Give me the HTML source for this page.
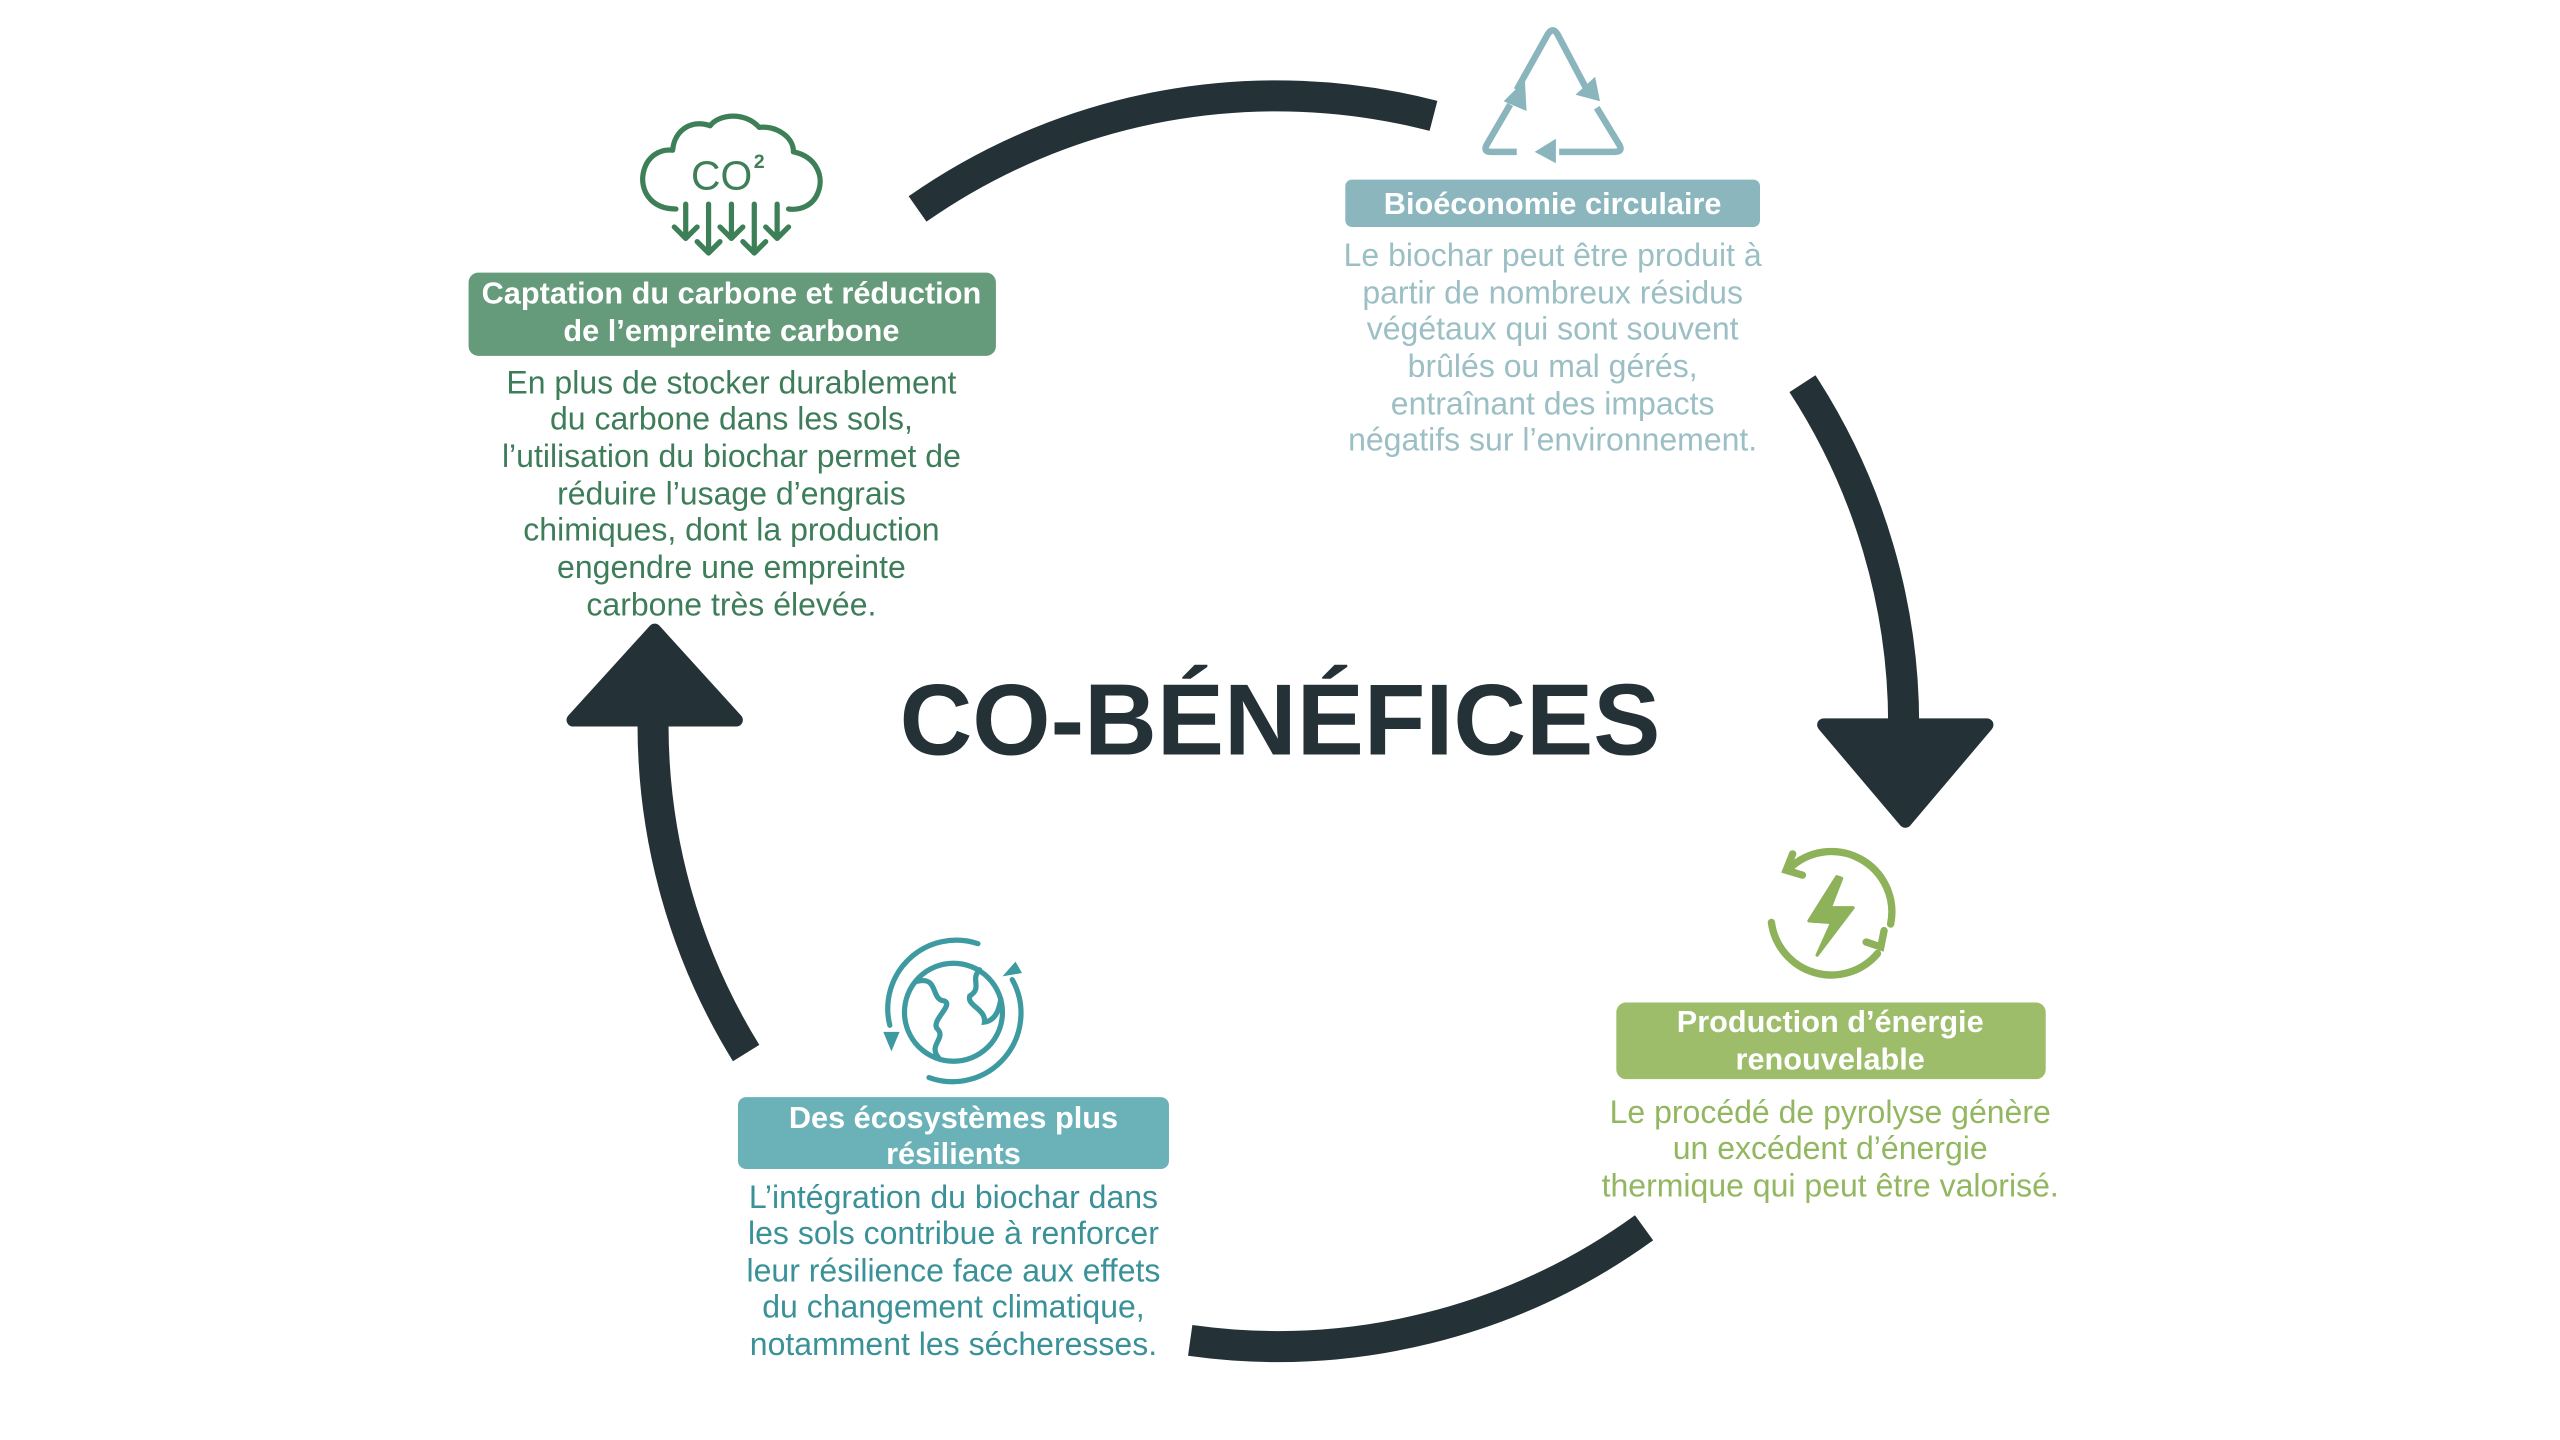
<!DOCTYPE html>
<html><head><meta charset="utf-8"><style>
html,body{margin:0;padding:0;background:#fff;}
svg{display:block;}
text{font-family:"Liberation Sans",sans-serif;}
.h{font-weight:bold;fill:#fff;font-size:18.8px;text-anchor:middle;}
.b{font-size:19.6px;text-anchor:middle;}
</style></head><body>
<svg width="2560" height="1440" viewBox="0 0 1568 882" xmlns="http://www.w3.org/2000/svg">
<rect width="1568" height="882" fill="#fff"/>
<g fill="none" stroke="#243238" stroke-width="19">
<path d="M562,128 A383,383 0 0 1 878,71"/>
<path d="M1104,235 A383,383 0 0 1 1166,445"/>
<path d="M1007,752 A383,383 0 0 1 729,821"/>
<path d="M457,645 A383,383 0 0 1 400,440"/>
</g>
<g fill="#243238" stroke="#243238" stroke-width="8" stroke-linejoin="round">
<polygon points="1117,444 1217,444 1167,503"/>
<polygon points="351,441 451,441 401,386"/>
</g>
<text x="784" y="462" text-anchor="middle" font-size="62" font-weight="bold" fill="#243238" textLength="466" lengthAdjust="spacingAndGlyphs">CO-BÉNÉFICES</text>

<g fill="none" stroke="#3d7f57" stroke-width="3.2" stroke-linecap="round" stroke-linejoin="round">
<path d="M414,128 C398,128 392,116 394,106 C396,96 404,91 412,92 C413,80 423,73 435,77 C440,70 456,68 465,78 C476,77 486,84 486,93 C500,96 505,108 501,118 C498,126 490,129 483,128"/>
<path d="M420,125 V146 M413,139 L420,146 L427,139"/>
<path d="M434,125 V155 M427,148 L434,155 L441,148"/>
<path d="M448,125 V146 M441,139 L448,146 L455,139"/>
<path d="M462,125 V155 M455,148 L462,155 L469,148"/>
<path d="M476,125 V146 M469,139 L476,146 L483,139"/>
</g>
<text x="442" y="116" text-anchor="middle" font-size="25" fill="#3d7f57">CO</text>
<text x="465" y="103" text-anchor="middle" font-size="12" font-weight="bold" fill="#3d7f57">2</text>
<rect x="287" y="167" width="323" height="51" rx="6" fill="#659a7a"/>
<text class="h" x="448" y="186">Captation du carbone et réduction</text>
<text class="h" x="448" y="209">de l’empreinte carbone</text>
<g fill="#3e7d59">
<text class="b" x="448" y="241">En plus de stocker durablement</text>
<text class="b" x="448" y="263">du carbone dans les sols,</text>
<text class="b" x="448" y="286">l’utilisation du biochar permet de</text>
<text class="b" x="448" y="309">réduire l’usage d’engrais</text>
<text class="b" x="448" y="331">chimiques, dont la production</text>
<text class="b" x="448" y="354">engendre une empreinte</text>
<text class="b" x="448" y="377">carbone très élevée.</text>
</g>

<g fill="none" stroke="#8ab5bd" stroke-width="4" stroke-linejoin="round">
<path d="M929,55 L948,21 Q951,16 954,21 L972,55"/>
<path d="M978,66 L992,89 Q994,93 989,93 L955,93"/>
<path d="M929,93 L913,93 Q908,93 911,88 L925,64"/>
</g>
<g fill="#8ab5bd">
<polygon points="921,62 934,49 935,68"/>
<polygon points="965,58 980,62 977,47"/>
<polygon points="953,85 953,100 940,93"/>
</g>
<rect x="824" y="110" width="254" height="29" rx="4" fill="#8cb6be"/>
<text class="h" x="951" y="131">Bioéconomie circulaire</text>
<g fill="#9bbfc4">
<text class="b" x="951" y="163">Le biochar peut être produit à</text>
<text class="b" x="951" y="186">partir de nombreux résidus</text>
<text class="b" x="951" y="208">végétaux qui sont souvent</text>
<text class="b" x="951" y="231">brûlés ou mal gérés,</text>
<text class="b" x="951" y="254">entraînant des impacts</text>
<text class="b" x="951" y="276">négatifs sur l’environnement.</text>
</g>

<g fill="none" stroke="#8db25a" stroke-width="4.5" stroke-linecap="round">
<path d="M1085,565 A37,37 0 0 0 1150,584"/>
<path d="M1158,566 A37,37 0 0 0 1096,532"/>
<path d="M1143,577 L1152,580 L1154,570"/>
<path d="M1098,523 L1094,533 L1104,536"/>
</g>
<polygon points="1125,537 1108,564 1122,565 1113,585 1135,556 1121,556 1128,538" fill="#8db25a" stroke="#8db25a" stroke-width="2" stroke-linejoin="round"/>
<rect x="990" y="614" width="263" height="47" rx="6" fill="#9dbd6a"/>
<text class="h" x="1121" y="632">Production d’énergie</text>
<text class="h" x="1121" y="655">renouvelable</text>
<g fill="#93b760">
<text class="b" x="1121" y="688">Le procédé de pyrolyse génère</text>
<text class="b" x="1121" y="710">un excédent d’énergie</text>
<text class="b" x="1121" y="733">thermique qui peut être valorisé.</text>
</g>

<g fill="none" stroke="#3e9aa1" stroke-width="3.2" stroke-linecap="round">
<circle cx="584" cy="620" r="30"/>
<path d="M599,578 A42,42 0 0 0 545,628"/>
<path d="M569,660 A42,42 0 0 0 620,600"/>
<path d="M562,601 C575,598 570,612 578,613 C585,615 570,625 574,630 C580,636 568,640 575,648"/>
<path d="M600,594 C594,600 602,605 594,610 C592,616 604,618 603,626 C610,625 612,618 613,612"/>
</g>
<g fill="#3e9aa1">
<polygon points="541,632 551,632 546,644"/>
<polygon points="614,598 626,596 622,589"/>
</g>
<rect x="452" y="672" width="264" height="44" rx="5" fill="#6ab2b8"/>
<text class="h" x="584" y="691">Des écosystèmes plus</text>
<text class="h" x="584" y="713">résilients</text>
<g fill="#3a9198">
<text class="b" x="584" y="740">L’intégration du biochar dans</text>
<text class="b" x="584" y="762">les sols contribue à renforcer</text>
<text class="b" x="584" y="785">leur résilience face aux effets</text>
<text class="b" x="584" y="807">du changement climatique,</text>
<text class="b" x="584" y="830">notamment les sécheresses.</text>
</g>
</svg>
</body></html>
